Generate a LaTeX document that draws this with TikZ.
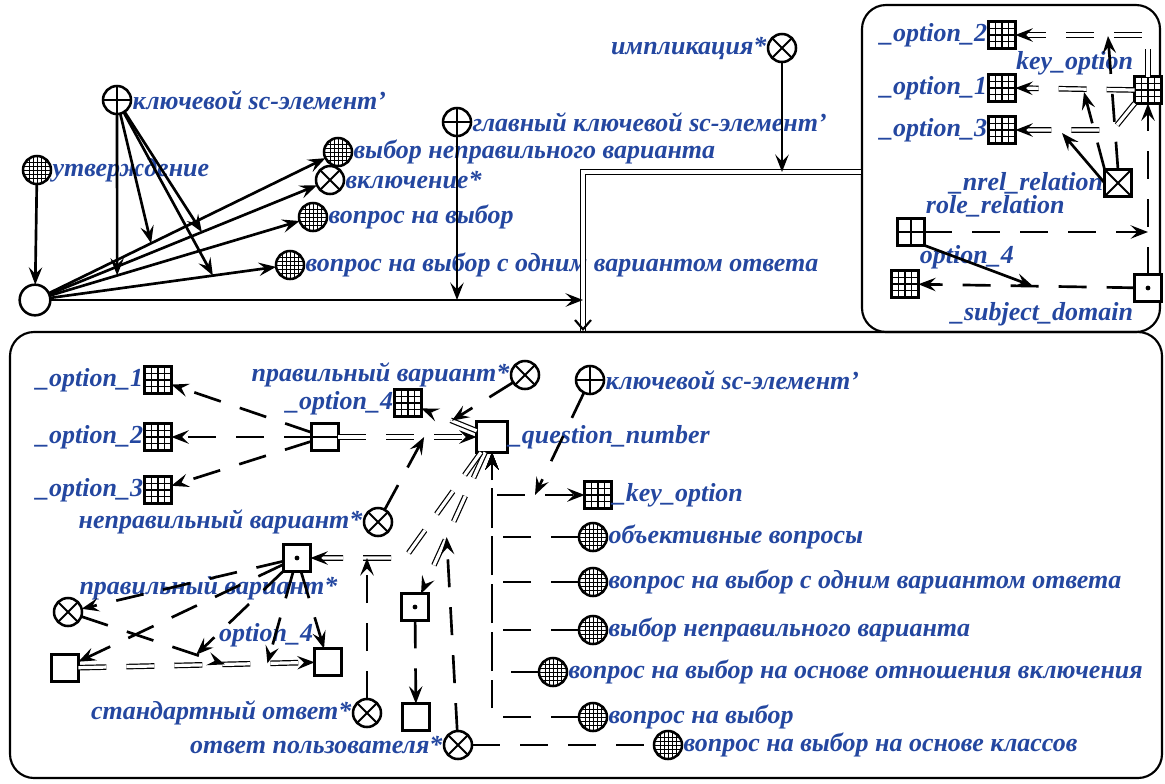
\documentclass[tikz,border=0pt]{standalone}
\usepackage{fontspec}
\setmainfont{Liberation Serif}
\usetikzlibrary{arrows.meta, positioning, calc}
\definecolor{scText}{HTML}{2447A0}
\newcommand{\scfont}{\bfseries\itshape\fontsize{19.5}{21}\selectfont}

\tikzset{
  sctip/.tip={Stealth[length=13pt, width=10pt, inset=5pt]},
  % sc-nodes
  scnode/.style={draw, line width=1.9pt, fill=white, inner sep=0pt, outer sep=0pt},
  gcirc/.style={scnode, circle, minimum size=21pt, path picture={
      \foreach \d in {-6,-3,0,3,6}{
        \draw[black, line width=0.7pt] ([xshift=\d pt]path picture bounding box.north) -- ([xshift=\d pt]path picture bounding box.south);
        \draw[black, line width=0.7pt] ([yshift=\d pt]path picture bounding box.west) -- ([yshift=\d pt]path picture bounding box.east);
      }}},
  xcirc/.style={scnode, circle, minimum size=21pt, path picture={
      \draw[black, line width=1.5pt] (path picture bounding box.south west) -- (path picture bounding box.north east)
        (path picture bounding box.north west) -- (path picture bounding box.south east);}},
  pcirc/.style={scnode, circle, minimum size=21pt, path picture={
      \draw[black, line width=1.5pt] (path picture bounding box.north) -- (path picture bounding box.south)
        (path picture bounding box.west) -- (path picture bounding box.east);}},
  ecirc/.style={scnode, circle, minimum size=23pt},
  esq/.style={scnode, rectangle, minimum size=20pt},
  gsq/.style={scnode, rectangle, minimum size=20pt, path picture={
      \foreach \d in {-5,0,5}{
        \draw[black, line width=1pt] ([xshift=\d pt]path picture bounding box.north) -- ([xshift=\d pt]path picture bounding box.south);
        \draw[black, line width=1pt] ([yshift=\d pt]path picture bounding box.west) -- ([yshift=\d pt]path picture bounding box.east);
      }}},
  psq/.style={scnode, rectangle, minimum size=20pt, path picture={
      \draw[black, line width=1.5pt] (path picture bounding box.north) -- (path picture bounding box.south)
        (path picture bounding box.west) -- (path picture bounding box.east);}},
  csq/.style={scnode, rectangle, minimum size=20pt, path picture={
      \draw[black, line width=1.5pt] (path picture bounding box.south west) -- (path picture bounding box.north east)
        (path picture bounding box.north west) -- (path picture bounding box.south east);}},
  tsq/.style={scnode, rectangle, minimum size=20pt, path picture={
      \draw[black, line width=1.5pt] (path picture bounding box.west) -- (path picture bounding box.east);}},
  dsq/.style={scnode, rectangle, minimum size=20pt, path picture={
      \fill[black] (path picture bounding box.center) circle (1.8pt);}},
  contour/.style={draw, rounded corners=18pt, line width=1.6pt, inner sep=0pt},
  % connectors
  carc/.style={draw, line width=2pt, -{sctip}},
  varc/.style={carc, dash pattern=on 21pt off 15pt},
  vedge/.style={draw, line width=2pt, dash pattern=on 21pt off 15pt},
  vpair/.style={
    postaction={draw, double, double distance=2.4pt, line width=0.9pt, dash pattern=on 21pt off 15pt, shorten >=7pt},
    postaction={draw, line width=2pt, dash pattern=on 0pt off 4000pt, -{sctip}}},
  cpair/.style={
    postaction={draw, double, double distance=2.8pt, line width=1.1pt},
    postaction={draw, line width=1.6pt, dash pattern=on 0pt off 4000pt, -{Straight Barb[length=7pt, width=12pt]}}}
}

\begin{document}
\begin{tikzpicture}[x=0.75pt, y=-0.75pt,
  every label/.style={text=scText, font=\scfont, inner sep=1pt}]
\useasboundingbox (0,0) rectangle (1165,783);

% contours
\node[contour, minimum width=223.5pt, minimum height=245.25pt] (ctxA) at (1011,168.5) {};
\node[contour, minimum width=864pt, minimum height=334.5pt] (ctxB) at (586,555) {};

% upper part
\node[gcirc, label={east:утверждение}] (utv) at (37,170) {};
\node[pcirc, label={east:ключевой sc-элемент'}] (kl1) at (117,100) {};
\node[pcirc, label={east:главный ключевой sc-элемент'}] (gl) at (457,122) {};
\node[xcirc, label={west:импликация*}] (impl) at (782,48) {};
\node[gcirc, label={east:выбор неправильного варианта}] (vyb) at (338,152) {};
\node[xcirc, label={east:включение*}] (vkl) at (330,180) {};
\node[gcirc, label={east:вопрос на выбор}] (vnv) at (313,217) {};
\node[gcirc, label={east:вопрос на выбор с одним вариантом ответа}] (vnv1) at (290,265) {};
\node[ecirc] (root) at (35,300) {};

% upper right contour
\node[gsq, label={west:\_option\_2}] (o2) at (1002,35) {};
\node[gsq, label={west:\_option\_1}] (o1) at (1002,88) {};
\node[gsq, label={west:\_option\_3}] (o3) at (1002,130) {};
\node[gsq, label={above left:key\_option}] (key) at (1148,90) {};
\node[csq, label={west:\_nrel\_relation}] (nrel) at (1118,183) {};
\node[psq, label={above right:role\_relation}] (role) at (911,232) {};
\node[gsq, label={above right:option\_4}] (o4) at (905,284) {};
\node[dsq, label={below left:\_subject\_domain}] (sd) at (1148,288) {};

% lower contour
\node[gsq, label={west:\_option\_1}] (bo1) at (158,380) {};
\node[gsq, label={west:\_option\_2}] (bo2) at (158,437) {};
\node[gsq, label={west:\_option\_3}] (bo3) at (158,490) {};
\node[tsq] (tup) at (325,437) {};
\node[esq, minimum size=23pt, label={east:\_question\_number}] (qn) at (492,437) {};
\node[gsq, label={west:\_option\_4}] (bo4) at (408,403) {};
\node[xcirc, label={west:правильный вариант*}] (pv1) at (525,375) {};
\node[pcirc, label={east:ключевой sc-элемент'}] (kl2) at (590,380) {};
\node[gsq, label={east:\_key\_option}] (bkey) at (598,495) {};
\node[xcirc, label={west:неправильный вариант*}] (nv) at (378,522) {};
\node[dsq] (tb) at (297,558) {};
\node[xcirc, label={above right:правильный вариант*}] (pv2) at (68,612) {};
\node[esq] (sq1) at (65,668) {};
\node[esq, label={above left:option\_4}] (sq2) at (328,662) {};
\node[dsq] (sq3) at (415,607) {};
\node[esq] (sq4) at (416,717) {};
\node[xcirc, label={west:стандартный ответ*}] (sa) at (367,713) {};
\node[xcirc, label={west:ответ пользователя*}] (ua) at (458,745) {};
\node[gcirc, label={east:объективные вопросы}] (c1) at (593,537) {};
\node[gcirc, label={east:вопрос на выбор с одним вариантом ответа}] (c2) at (593,582) {};
\node[gcirc, label={east:выбор неправильного варианта}] (c3) at (593,630) {};
\node[gcirc, label={east:вопрос на выбор на основе отношения включения}] (c4) at (553,672) {};
\node[gcirc, label={east:вопрос на выбор}] (c5) at (593,717) {};
\node[gcirc, label={east:вопрос на выбор на основе классов}] (c6) at (668,745) {};

% upper part connectors
\draw[carc] (utv) -- (root);
\foreach \t in {vyb, vkl, vnv, vnv1} \draw[carc] (root) -- (\t);
\path (root) -- (vnv) coordinate[pos=0.27] (k1)
      (root) -- (vyb) coordinate[pos=0.37] (k2)
      (root) -- (vkl) coordinate[pos=0.57] (k3)
      (root) -- (vnv1) coordinate[pos=0.72] (k4);
\foreach \k in {k1, k2, k3, k4} \draw[carc] (kl1) -- (\k);
\coordinate (pcorner) at (583,172);
\path[cpair] (ctxA.west |- pcorner) -- (pcorner) -- (pcorner |- ctxB.north);
\draw[carc] (root) -- (root -| pcorner);
\draw[carc] (gl) -- (gl |- root);
\draw[carc] (impl) -- (impl |- pcorner);

% upper right connectors
\path[vpair] (key.north) |- (o2.east);
\path[vpair] (key.west) -- (o1.east);
\coordinate (kb) at (1113,130);
\path[vpair] (key.south west) -- (kb) -- (o3.east);
\draw[varc] (nrel.north) -- (1108,36);
\draw[varc] (nrel.north west) -- (1084,92);
\draw[carc] (nrel.west) -- (1062,133);
\draw[varc] (sd) -- (key);
\draw[varc] (role) -- (role -| sd);
\draw[varc] (sd) -- (o4);
\path (sd) -- (o4) coordinate[pos=0.47] (so4);
\draw[carc] (role.south east) -- (so4);

% lower connectors
\foreach \b in {bo1, bo2, bo3} \draw[varc] (tup) -- (\b);
\path[vpair] (tup) -- (qn);
\path[vpair] (qn) -- (bo4);
\path (qn) -- (bo4) coordinate[pos=0.45] (qb4)
      (tup) -- (qn) coordinate[pos=0.62] (tq);
\draw[varc] (pv1) -- (qb4);
\draw[varc] (nv) -- (tq);
\draw[varc] (qn) -- (qn |- bkey) -- (bkey);
\draw[varc] (kl2) -- (535,495);
\foreach \c in {c1, c2, c3, c4, c5} \draw[varc] (\c) -| (qn);
\draw[vedge] (ua) -- (c6);
\path[vpair] (qn) -- (sq3);
\path (qn) -- (sq3) coordinate[pos=0.6] (q3);
\draw[varc] (ua) -- (q3);
\coordinate (qt) at (405,558);
\path[vpair] (qn) -- (qt) -- (tb);
\draw[varc] (sa) -- (sa |- qt);
\draw[varc] (sq3) -- (sq4);
\path[vpair] (sq1) -- (sq2);
\path (sq1) -- (sq2) coordinate[pos=0.62] (s12)
      (sq1) -- (sq2) coordinate[pos=0.8] (s12b);
\draw[varc] (pv2) -- (s12);
\path (pv2) -- (s12) coordinate[pos=0.8] (pvs);
\foreach \e in {pv2, sq1, sq2, s12b, pvs} \draw[varc] (tb) -- (\e);
\end{tikzpicture}
\end{document}
